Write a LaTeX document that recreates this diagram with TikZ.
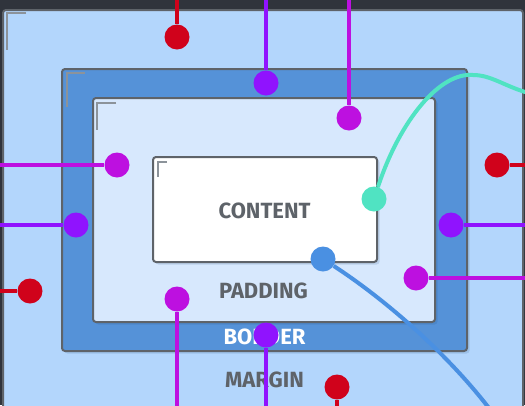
\documentclass[tikz,border=0pt]{standalone}
\usepackage{fontspec}
\setmainfont{Fira Sans}
\usetikzlibrary{shadows}

\definecolor{frame}{HTML}{30343C}
\definecolor{edge}{HTML}{5E6369}
\definecolor{ink}{HTML}{5E6369}
\definecolor{marktone}{HTML}{8C939A}
\definecolor{marginfill}{HTML}{B3D6FC}
\definecolor{borderfill}{HTML}{5592D8}
\definecolor{paddingfill}{HTML}{D7E8FD}
\definecolor{shadowtone}{HTML}{1E4A80}
\definecolor{cred}{HTML}{D0021B}
\definecolor{cviolet}{HTML}{9013FE}
\definecolor{cmagenta}{HTML}{BD10E0}
\definecolor{cteal}{HTML}{50E3C2}
\definecolor{cblue}{HTML}{4A90E2}

\begin{document}
\begin{tikzpicture}[x=1pt, y=-1pt,
  cornermark/.style={draw=marktone, line width=1.1pt},
  box/.style={draw=edge, line width=2pt, rounded corners=3pt, inner sep=0pt,
    drop shadow={shadow xshift=2.5pt, shadow yshift=-2.5pt, opacity=.15, fill=shadowtone}},
  tag/.style={font=\bfseries\fontsize{22}{22}\selectfont, text=ink, inner sep=0pt},
  knob/.style={circle, fill=#1, minimum size=25pt, inner sep=0pt},
  wire/.style={draw=#1, line width=4pt},
]
\useasboundingbox (0,0) rectangle (525,405);

% window frame and margin area
\fill[frame] (0,0) rectangle (525,405);
\draw[edge, fill=marginfill, line width=2pt, rounded corners=3pt] (3,10) rectangle (523,440);
\draw[cornermark] (26,13) -- (7,13) -- (7,50);

% border, padding and content boxes
\node[box, fill=borderfill, minimum width=405pt, minimum height=282pt] (border) at (264.5,210) {};
\draw[cornermark] (85,73) -- (67,73) -- (67,107);
\node[box, fill=paddingfill, minimum width=342pt, minimum height=224pt] (padding) at (264,210) {};
\draw[cornermark] (116,103) -- (97,103) -- (97,130);
\node[box, fill=white, minimum width=224pt, minimum height=105pt] (content) at (265,209.5) {};
\draw[cornermark] (167,162) -- (158,162) -- (158,177);

% labels
\node[tag] (lcontent) at (264.5,211) {CONTENT};
\node[tag] (lpadding) at (263.5,291) {PADDING};
\node[tag, text=white] (lborder) at (264.5,337) {BORDER};
\node[tag] (lmargin) at (264.5,380) {MARGIN};

% pins from the top edge
\node[knob=cred] (pt1) at (177,37) {};
\coordinate (et1) at (177,-5);
\draw[wire=cred] (et1) -- (pt1);
\node[knob=cviolet] (pt2) at (266,83) {};
\coordinate (et2) at (266,-5);
\draw[wire=cviolet] (et2) -- (pt2);
\node[knob=cmagenta] (pt3) at (349,118) {};
\coordinate (et3) at (349,-5);
\draw[wire=cmagenta] (et3) -- (pt3);

% pins from the left edge
\node[knob=cmagenta] (pl1) at (117,165) {};
\coordinate (el1) at (-5,165);
\draw[wire=cmagenta] (el1) -- (pl1);
\node[knob=cviolet] (pl2) at (76,225) {};
\coordinate (el2) at (-5,225);
\draw[wire=cviolet] (el2) -- (pl2);
\node[knob=cred] (pl3) at (30,291) {};
\coordinate (el3) at (-5,291);
\draw[wire=cred] (el3) -- (pl3);

% pins from the right edge
\node[knob=cred] (pr1) at (497,165) {};
\coordinate (er1) at (530,165);
\draw[wire=cred] (er1) -- (pr1);
\node[knob=cviolet] (pr2) at (451,225) {};
\coordinate (er2) at (530,225);
\draw[wire=cviolet] (er2) -- (pr2);
\node[knob=cmagenta] (pr3) at (416,278) {};
\coordinate (er3) at (530,278);
\draw[wire=cmagenta] (er3) -- (pr3);

% pins from the bottom edge
\node[knob=cmagenta] (pb1) at (177,299) {};
\coordinate (eb1) at (177,410);
\draw[wire=cmagenta] (eb1) -- (pb1);
\node[knob=cviolet] (pb2) at (266,335) {};
\coordinate (eb2) at (266,410);
\draw[wire=cviolet] (eb2) -- (pb2);
\node[knob=cred] (pb3) at (337,387) {};
\coordinate (eb3) at (337,410);
\draw[wire=cred] (eb3) -- (pb3);

% curved leads
\coordinate (crest) at (473,75);
\coordinate (ecurl) at (532,94);
\draw[wire=cteal] (crest) .. controls (492,75) and (505,87) .. (ecurl);
\node[knob=cteal] (pc1) at (374,199) {};
\draw[wire=cteal] (pc1) .. controls (400,120) and (440,72) .. (crest);

\coordinate (esweep) at (492,412);
\node[knob=cblue] (pc2) at (323,259) {};
\draw[wire=cblue] (pc2) .. controls (380,296) and (445,350) .. (esweep);
\end{tikzpicture}
\end{document}
